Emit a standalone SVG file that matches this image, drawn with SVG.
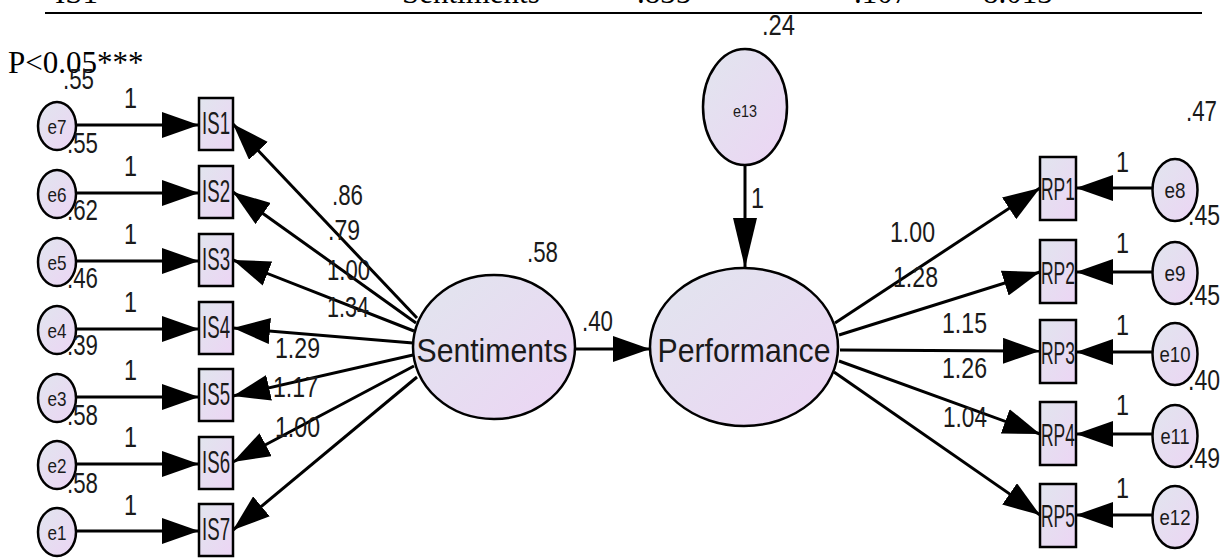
<svg xmlns="http://www.w3.org/2000/svg" width="1225" height="558" viewBox="0 0 1225 558">
<style>
.nd{stroke:#000;stroke-width:2.5;fill:url(#g)}
.cn{stroke:#000;stroke-width:3;fill:none;marker-end:url(#ah)}
.t{font-family:"Liberation Sans",Arial,sans-serif;fill:#1a1a1a}
.n{font-size:29px}
.lab{font-size:32px;text-anchor:middle}
.el{font-size:21px;text-anchor:middle}
.tm{font-family:"Liberation Serif","Times New Roman",serif;font-size:31px;fill:#000}
</style>
<defs>
<linearGradient id="g" x1="0" y1="0" x2="1" y2="1">
<stop offset="0" stop-color="#e1e5ee"/>
<stop offset="1" stop-color="#ecd5f4"/>
</linearGradient>
<marker id="ah" markerUnits="userSpaceOnUse" markerWidth="37" markerHeight="26" viewBox="0 0 37 26" refX="37" refY="13" orient="auto">
<path d="M0,0 L37,13 L0,26 z" fill="#000"/>
</marker>
<marker id="ahv" markerUnits="userSpaceOnUse" markerWidth="50" markerHeight="24" viewBox="0 0 50 24" refX="50" refY="12" orient="auto">
<path d="M0,0 L50,12 L0,24 z" fill="#000"/>
</marker>
</defs>
<rect width="1225" height="558" fill="#fff"/>
<g id="table">
<text class="tm" x="55" y="3">IS1</text>
<text class="tm" x="402" y="3">Sentiments</text>
<text class="tm" x="637" y="3">.835</text>
<text class="tm" x="854" y="3">.107</text>
<text class="tm" x="983" y="3">8.013</text>
<line x1="45" y1="13" x2="1202" y2="13" stroke="#000" stroke-width="2.2"/>
</g>
<text class="tm" x="8" y="73">P&lt;0.05***</text>

<g id="connectors">
<line class="cn" x1="76" y1="125" x2="199" y2="125"/>
<line class="cn" x1="76" y1="193" x2="199" y2="193"/>
<line class="cn" x1="76" y1="261" x2="199" y2="261"/>
<line class="cn" x1="76" y1="329" x2="199" y2="329"/>
<line class="cn" x1="76" y1="397" x2="199" y2="397"/>
<line class="cn" x1="76" y1="464" x2="199" y2="464"/>
<line class="cn" x1="76" y1="531" x2="199" y2="531"/>
<line class="cn" x1="417" y1="318" x2="233" y2="124"/>
<line class="cn" x1="416" y1="323" x2="233" y2="192"/>
<line class="cn" x1="414" y1="331" x2="233" y2="260"/>
<line class="cn" x1="413" y1="343" x2="233" y2="328"/>
<line class="cn" x1="413" y1="355" x2="233" y2="396"/>
<line class="cn" x1="414" y1="366" x2="233" y2="462"/>
<line class="cn" x1="417" y1="377" x2="233" y2="530"/>
<line class="cn" x1="575" y1="349" x2="650" y2="349"/>
<line x1="745" y1="165" x2="745" y2="268" stroke="#000" stroke-width="3" marker-end="url(#ahv)"/>
<line class="cn" x1="835" y1="323" x2="1040" y2="188"/>
<line class="cn" x1="839" y1="335" x2="1040" y2="272"/>
<line class="cn" x1="840" y1="350" x2="1040" y2="351"/>
<line class="cn" x1="839" y1="361" x2="1040" y2="434"/>
<line class="cn" x1="834" y1="372" x2="1040" y2="515"/>
<line class="cn" x1="1153" y1="188" x2="1076" y2="188"/>
<line class="cn" x1="1153" y1="272" x2="1076" y2="272"/>
<line class="cn" x1="1153" y1="352" x2="1076" y2="352"/>
<line class="cn" x1="1153" y1="434" x2="1076" y2="434"/>
<line class="cn" x1="1153" y1="515" x2="1076" y2="515"/>
</g>

<g id="e7"><ellipse class="nd" cx="57" cy="126" rx="19" ry="24"/><text class="t el" x="57" y="134" textLength="19" lengthAdjust="spacingAndGlyphs">e7</text></g>
<g id="e6"><ellipse class="nd" cx="57" cy="194" rx="19" ry="24"/><text class="t el" x="57" y="202" textLength="19" lengthAdjust="spacingAndGlyphs">e6</text></g>
<g id="e5"><ellipse class="nd" cx="57" cy="262" rx="19" ry="24"/><text class="t el" x="57" y="270" textLength="19" lengthAdjust="spacingAndGlyphs">e5</text></g>
<g id="e4"><ellipse class="nd" cx="57" cy="330" rx="19" ry="24"/><text class="t el" x="57" y="338" textLength="19" lengthAdjust="spacingAndGlyphs">e4</text></g>
<g id="e3"><ellipse class="nd" cx="57" cy="398" rx="19" ry="24"/><text class="t el" x="57" y="406" textLength="19" lengthAdjust="spacingAndGlyphs">e3</text></g>
<g id="e2"><ellipse class="nd" cx="57" cy="465" rx="19" ry="24"/><text class="t el" x="57" y="473" textLength="19" lengthAdjust="spacingAndGlyphs">e2</text></g>
<g id="e1"><ellipse class="nd" cx="57" cy="532" rx="19" ry="24"/><text class="t el" x="57" y="540" textLength="19" lengthAdjust="spacingAndGlyphs">e1</text></g>

<g id="IS1"><rect class="nd" x="199" y="98" width="34" height="52"/><text class="t lab" x="216" y="134" textLength="28" lengthAdjust="spacingAndGlyphs">IS1</text></g>
<g id="IS2"><rect class="nd" x="199" y="166" width="34" height="52"/><text class="t lab" x="216" y="202" textLength="28" lengthAdjust="spacingAndGlyphs">IS2</text></g>
<g id="IS3"><rect class="nd" x="199" y="234" width="34" height="52"/><text class="t lab" x="216" y="270" textLength="28" lengthAdjust="spacingAndGlyphs">IS3</text></g>
<g id="IS4"><rect class="nd" x="199" y="302" width="34" height="52"/><text class="t lab" x="216" y="338" textLength="28" lengthAdjust="spacingAndGlyphs">IS4</text></g>
<g id="IS5"><rect class="nd" x="199" y="369" width="34" height="52"/><text class="t lab" x="216" y="405" textLength="28" lengthAdjust="spacingAndGlyphs">IS5</text></g>
<g id="IS6"><rect class="nd" x="199" y="437" width="34" height="52"/><text class="t lab" x="216" y="473" textLength="28" lengthAdjust="spacingAndGlyphs">IS6</text></g>
<g id="IS7"><rect class="nd" x="199" y="504" width="34" height="52"/><text class="t lab" x="216" y="540" textLength="28" lengthAdjust="spacingAndGlyphs">IS7</text></g>

<g id="Sentiments"><ellipse class="nd" cx="494" cy="347" rx="81" ry="72"/><text class="t" x="492" y="362" font-size="34" text-anchor="middle" textLength="151" lengthAdjust="spacingAndGlyphs">Sentiments</text></g>
<g id="Performance"><ellipse class="nd" cx="744" cy="347" rx="94" ry="79"/><text class="t" x="744" y="362" font-size="34" text-anchor="middle" textLength="173" lengthAdjust="spacingAndGlyphs">Performance</text></g>
<g id="e13"><ellipse class="nd" cx="745" cy="107" rx="42" ry="58"/><text class="t" x="745" y="117" font-size="17" text-anchor="middle" textLength="24" lengthAdjust="spacingAndGlyphs">e13</text></g>

<g id="RP1"><rect class="nd" x="1040" y="157" width="36" height="63"/><text class="t lab" x="1058" y="200" textLength="34" lengthAdjust="spacingAndGlyphs">RP1</text></g>
<g id="RP2"><rect class="nd" x="1040" y="240" width="36" height="63"/><text class="t lab" x="1058" y="284" textLength="34" lengthAdjust="spacingAndGlyphs">RP2</text></g>
<g id="RP3"><rect class="nd" x="1040" y="320" width="36" height="63"/><text class="t lab" x="1058" y="364" textLength="34" lengthAdjust="spacingAndGlyphs">RP3</text></g>
<g id="RP4"><rect class="nd" x="1040" y="402" width="36" height="63"/><text class="t lab" x="1058" y="446" textLength="34" lengthAdjust="spacingAndGlyphs">RP4</text></g>
<g id="RP5"><rect class="nd" x="1040" y="484" width="36" height="63"/><text class="t lab" x="1058" y="527" textLength="34" lengthAdjust="spacingAndGlyphs">RP5</text></g>

<g id="e8"><ellipse class="nd" cx="1175" cy="190" rx="22.5" ry="31"/><text class="t" x="1175" y="198" font-size="22" text-anchor="middle" textLength="21" lengthAdjust="spacingAndGlyphs">e8</text></g>
<g id="e9"><ellipse class="nd" cx="1175" cy="273" rx="22.5" ry="31"/><text class="t" x="1175" y="281" font-size="22" text-anchor="middle" textLength="21" lengthAdjust="spacingAndGlyphs">e9</text></g>
<g id="e10"><ellipse class="nd" cx="1175" cy="354" rx="22.5" ry="31"/><text class="t" x="1175" y="362" font-size="22" text-anchor="middle" textLength="31" lengthAdjust="spacingAndGlyphs">e10</text></g>
<g id="e11"><ellipse class="nd" cx="1175" cy="436" rx="22.5" ry="31"/><text class="t" x="1175" y="444" font-size="22" text-anchor="middle" textLength="29" lengthAdjust="spacingAndGlyphs">e11</text></g>
<g id="e12"><ellipse class="nd" cx="1175" cy="517" rx="22.5" ry="31"/><text class="t" x="1175" y="525" font-size="22" text-anchor="middle" textLength="31" lengthAdjust="spacingAndGlyphs">e12</text></g>

<g id="labels">
<text class="t n" x="63" y="89" textLength="31" lengthAdjust="spacingAndGlyphs">.55</text>
<text class="t n" x="67" y="153" textLength="31" lengthAdjust="spacingAndGlyphs">.55</text>
<text class="t n" x="67" y="220" textLength="31" lengthAdjust="spacingAndGlyphs">.62</text>
<text class="t n" x="67" y="288" textLength="31" lengthAdjust="spacingAndGlyphs">.46</text>
<text class="t n" x="67" y="355" textLength="31" lengthAdjust="spacingAndGlyphs">.39</text>
<text class="t n" x="67" y="425" textLength="31" lengthAdjust="spacingAndGlyphs">.58</text>
<text class="t n" x="67" y="493" textLength="31" lengthAdjust="spacingAndGlyphs">.58</text>
<text class="t n" x="124" y="108" textLength="13" lengthAdjust="spacingAndGlyphs">1</text>
<text class="t n" x="124" y="176" textLength="13" lengthAdjust="spacingAndGlyphs">1</text>
<text class="t n" x="124" y="244" textLength="13" lengthAdjust="spacingAndGlyphs">1</text>
<text class="t n" x="124" y="312" textLength="13" lengthAdjust="spacingAndGlyphs">1</text>
<text class="t n" x="124" y="380" textLength="13" lengthAdjust="spacingAndGlyphs">1</text>
<text class="t n" x="124" y="447" textLength="13" lengthAdjust="spacingAndGlyphs">1</text>
<text class="t n" x="124" y="515" textLength="13" lengthAdjust="spacingAndGlyphs">1</text>
<text class="t n" x="332" y="205" textLength="31" lengthAdjust="spacingAndGlyphs">.86</text>
<text class="t n" x="328" y="240" textLength="32" lengthAdjust="spacingAndGlyphs">.79</text>
<text class="t n" x="327" y="280" textLength="43" lengthAdjust="spacingAndGlyphs">1.00</text>
<text class="t n" x="327" y="317" textLength="42" lengthAdjust="spacingAndGlyphs">1.34</text>
<text class="t n" x="275" y="358" textLength="45" lengthAdjust="spacingAndGlyphs">1.29</text>
<text class="t n" x="273" y="397" textLength="45" lengthAdjust="spacingAndGlyphs">1.17</text>
<text class="t n" x="275" y="437" textLength="45" lengthAdjust="spacingAndGlyphs">1.00</text>
<text class="t n" x="527" y="262" textLength="31" lengthAdjust="spacingAndGlyphs">.58</text>
<text class="t n" x="582" y="331" textLength="31" lengthAdjust="spacingAndGlyphs">.40</text>
<text class="t n" x="762" y="35" textLength="33" lengthAdjust="spacingAndGlyphs">.24</text>
<text class="t n" x="751" y="208" textLength="13" lengthAdjust="spacingAndGlyphs">1</text>
<text class="t n" x="890" y="242" textLength="45" lengthAdjust="spacingAndGlyphs">1.00</text>
<text class="t n" x="893" y="287" textLength="45" lengthAdjust="spacingAndGlyphs">1.28</text>
<text class="t n" x="942" y="333" textLength="45" lengthAdjust="spacingAndGlyphs">1.15</text>
<text class="t n" x="942" y="378" textLength="45" lengthAdjust="spacingAndGlyphs">1.26</text>
<text class="t n" x="943" y="427" textLength="44" lengthAdjust="spacingAndGlyphs">1.04</text>
<text class="t n" x="1116" y="172" textLength="13" lengthAdjust="spacingAndGlyphs">1</text>
<text class="t n" x="1116" y="253" textLength="13" lengthAdjust="spacingAndGlyphs">1</text>
<text class="t n" x="1116" y="335" textLength="13" lengthAdjust="spacingAndGlyphs">1</text>
<text class="t n" x="1116" y="415" textLength="13" lengthAdjust="spacingAndGlyphs">1</text>
<text class="t n" x="1116" y="498" textLength="13" lengthAdjust="spacingAndGlyphs">1</text>
<text class="t n" x="1186" y="121" textLength="31" lengthAdjust="spacingAndGlyphs">.47</text>
<text class="t n" x="1188" y="225" textLength="32" lengthAdjust="spacingAndGlyphs">.45</text>
<text class="t n" x="1188" y="305" textLength="32" lengthAdjust="spacingAndGlyphs">.45</text>
<text class="t n" x="1188" y="390" textLength="32" lengthAdjust="spacingAndGlyphs">.40</text>
<text class="t n" x="1188" y="468" textLength="32" lengthAdjust="spacingAndGlyphs">.49</text>
</g>
</svg>
